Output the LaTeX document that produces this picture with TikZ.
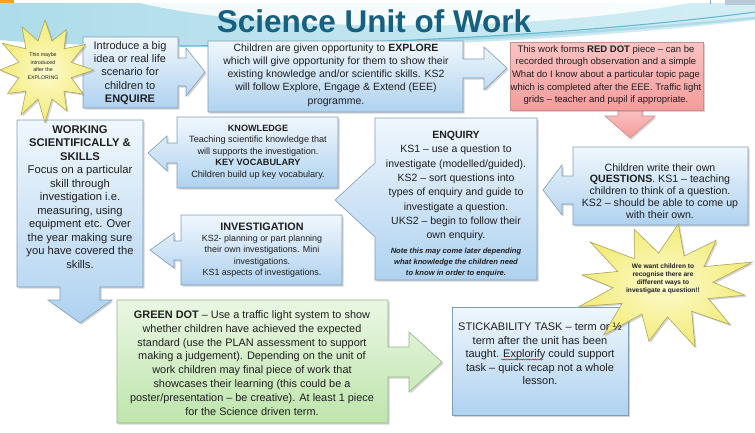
\documentclass[tikz,border=0pt]{standalone}
\usepackage{fontspec}
\setmainfont{Liberation Sans}
\usetikzlibrary{shadows,decorations.pathmorphing}

\definecolor{ink}{HTML}{1F1F1F}
\definecolor{titleblue}{HTML}{17607F}
\definecolor{edgeblue}{HTML}{7F9DB5}
\definecolor{paleblue}{HTML}{F0F7FD}
\definecolor{deepblue}{HTML}{AFD2F0}
\definecolor{edgered}{HTML}{C98E8E}
\definecolor{palered}{HTML}{FBC3C3}
\definecolor{deepred}{HTML}{F59C9C}
\definecolor{edgegreen}{HTML}{95B588}
\definecolor{palegreen}{HTML}{EAF7E3}
\definecolor{deepgreen}{HTML}{BEE5AC}
\definecolor{edgestar}{HTML}{ACA35A}
\definecolor{palestar}{HTML}{FDFBCF}
\definecolor{deepstar}{HTML}{F3EB77}
\definecolor{skyband}{HTML}{AEDCEA}
\definecolor{skylight}{HTML}{D3EEF5}
\definecolor{streak}{HTML}{3FA8C6}
\definecolor{tabgold}{HTML}{F2A51A}
\definecolor{tabgrey}{HTML}{B9C9D8}

% small bold italic face for the footnote inside the enquiry card
\newcommand{\notefont}{\fontsize{7.6}{9}\selectfont\bfseries\itshape}

\tikzset{
  cardshadow/.style={drop shadow={shadow xshift=1.6pt,shadow yshift=-1.6pt,opacity=0.28,fill=black!60}},
  bluecard/.style={draw=edgeblue,line width=0.6pt,top color=paleblue,bottom color=deepblue,cardshadow},
  redcard/.style={draw=edgered,line width=0.6pt,top color=palered,bottom color=deepred,cardshadow},
  greencard/.style={draw=edgegreen,line width=0.6pt,top color=palegreen,bottom color=deepgreen,cardshadow},
  starburst/.style={draw=edgestar,line width=0.6pt,inner color=palestar,outer color=deepstar,cardshadow},
  txt/.style={align=center,text=ink,inner sep=0pt},
}

\begin{document}
\begin{tikzpicture}[x=1pt,y=-1pt]
\useasboundingbox (0,0) rectangle (755,432);
\fill[white] (0,0) rectangle (755,432);

% sky band with streaks across the top
\shade[left color=skyband,right color=skylight]
  (0,3) -- (755,3) -- (755,20) .. controls (640,34) and (420,50) .. (200,47)
  .. controls (110,46) and (40,44) .. (0,40) -- cycle;
\fill[white,opacity=0.85] (140,3) .. controls (260,32) and (520,34) .. (690,3) -- cycle;
\draw[streak!60,line width=2.5pt,opacity=0.5] (300,45) .. controls (500,40) and (650,28) .. (755,18);
\draw[streak,line width=1.1pt,opacity=0.75] (180,46) .. controls (420,44) and (620,30) .. (755,12);
\fill[white] (0,0) rectangle (755,3);
\fill[tabgold] (0,0) rectangle (14,3);
\draw[edgeblue,line width=0.6pt] (710,0) -- (710,4);
\fill[tabgrey] (725,0) rectangle (755,5);

% heading
\node[anchor=base,inner sep=0pt,text=titleblue,font=\fontsize{31.5}{32}\selectfont\bfseries] (title) at (374,32) {Science Unit of Work};

% red down arrow (under the red card)
\path[redcard] (618,108) -- (642,108) -- (642,116) -- (655,116) -- (630,138) -- (605,116) -- (618,116) -- cycle;

% cards with their arrow callouts
\path[bluecard] (83,37) -- (178,37) -- (178,58) -- (186,58) -- (186,48) -- (205,72) -- (186,96) -- (186,86) -- (178,86) -- (178,108) -- (83,108) -- cycle;
\path[bluecard] (208,41) -- (463,41) -- (463,59) -- (484,59) -- (484,47) -- (507,68) -- (484,90) -- (484,78) -- (463,78) -- (463,112) -- (208,112) -- cycle;
\path[redcard] (510,42) rectangle (703,110);
\path[bluecard] (748,147) -- (748,225) -- (573,225) -- (573,204) -- (562,204) -- (562,215) -- (543,190) -- (562,165) -- (562,176) -- (573,176) -- (573,147) -- cycle;
\path[bluecard] (375,118) -- (537,118) -- (537,280) -- (375,280) -- (375,237) -- (335,200) -- (375,163) -- cycle;
\path[bluecard] (177,117) -- (338,117) -- (338,188) -- (177,188) -- (177,163) -- (167,163) -- (167,171) -- (148,153) -- (167,136) -- (167,143) -- (177,143) -- cycle;
\path[bluecard] (181,215) -- (342,215) -- (342,285) -- (181,285) -- (181,260) -- (174,260) -- (174,268) -- (150,250) -- (174,233) -- (174,241) -- (181,241) -- cycle;
\path[bluecard] (17,120) -- (143,120) -- (143,287) -- (100,287) -- (100,300) -- (112,300) -- (80,323) -- (48,300) -- (60,300) -- (60,287) -- (17,287) -- cycle;
\path[greencard] (117,300) -- (388,300) -- (388,347) -- (409,347) -- (409,332) -- (442,362) -- (409,392) -- (409,377) -- (388,377) -- (388,423) -- (117,423) -- cycle;
\path[bluecard] (452,307) rectangle (628,415);

% starbursts
\path[starburst] ({45+46*cos(-90)},{70+50*sin(-90)})
  \foreach \k in {1,...,23}{
    -- ({45+(46*(1+0.07*sin(\k*131))-(46*(1+0.07*sin(\k*131))-27)*mod(\k,2))*cos(-90+\k*15)},
        {70+(50*(1+0.07*sin(\k*131))-(50*(1+0.07*sin(\k*131))-30)*mod(\k,2))*sin(-90+\k*15)})
  } -- cycle;
\path[starburst] ({663+88*cos(-80)},{285+62*sin(-80)})
  \foreach \k in {1,...,23}{
    -- ({663+(88*(1+0.08*sin(\k*113))-(88*(1+0.08*sin(\k*113))-50)*mod(\k,2))*cos(-80+\k*15)},
        {285+(62*(1+0.08*sin(\k*113))-(62*(1+0.08*sin(\k*113))-32)*mod(\k,2))*sin(-80+\k*15)})
  } -- cycle;

% texts
\node[txt,font=\fontsize{5.3}{7.5}\selectfont] (hint) at (43,66) {This maybe\\introduced\\after the\\EXPLORING};
\node[txt,font=\fontsize{11}{13.3}\selectfont] (bigidea) at (130,73) {Introduce a big\\idea or real life\\scenario for\\children to\\\textbf{ENQUIRE}};
\node[txt,font=\fontsize{10.5}{13.2}\selectfont] (explore) at (336,75) {Children are given opportunity to \textbf{EXPLORE}\\which will give opportunity for them to show their\\existing knowledge and/or scientific skills. KS2\\will follow Explore, Engage \& Extend (EEE)\\programme.};
\node[txt,font=\fontsize{9.5}{12.6}\selectfont] (reddot) at (606,75) {This work forms \textbf{RED DOT} piece -- can be\\recorded through observation and a simple\\What do I know about a particular topic page\\which is completed after the EEE. Traffic light\\grids -- teacher and pupil if appropriate.};
\node[txt,font=\fontsize{10.6}{11.8}\selectfont] (questions) at (660,191) {Children write their own\\\textbf{QUESTIONS}. KS1 -- teaching\\children to think of a question.\\KS2 -- should be able to come up\\with their own.};
\node[txt,font=\fontsize{10.5}{14.3}\selectfont] (enquiry) at (456,204) {\textbf{ENQUIRY}\\KS1 -- use a question to\\investigate (modelled/guided).\\KS2 -- sort questions into\\types of enquiry and guide to\\investigate a question.\\UKS2 -- begin to follow their\\own enquiry.\\{\notefont Note this may come later depending}\\[-3.3pt]{\notefont what knowledge the children need}\\[-3.3pt]{\notefont to know in order to enquire.}};
\node[txt,font=\fontsize{9.1}{11.6}\selectfont] (knowledge) at (258,152) {\textbf{KNOWLEDGE}\\Teaching scientific knowledge that\\will supports the investigation.\\\textbf{KEY VOCABULARY}\\Children build up key vocabulary.};
\node[txt,font=\fontsize{8.9}{11.3}\selectfont] (investigation) at (262,250) {{\fontsize{10.8}{13}\selectfont\textbf{INVESTIGATION}}\\KS2- planning or part planning\\their own investigations. Mini\\investigations.\\KS1 aspects of investigations.};
\node[txt,font=\fontsize{11.2}{13.5}\selectfont] (working) at (80,197) {\textbf{WORKING}\\\textbf{SCIENTIFICALLY \&}\\\textbf{SKILLS}\\Focus on a particular\\skill through\\investigation i.e.\\measuring, using\\equipment etc. Over\\the year making sure\\you have covered the\\skills.};
\node[txt,font=\fontsize{10.9}{13.9}\selectfont] (greendot) at (252,363) {\textbf{GREEN DOT} -- Use a traffic light system to show\\whether children have achieved the expected\\standard (use the PLAN assessment to support\\making a judgement). Depending on the unit of\\work children may final piece of work that\\showcases their learning (this could be a\\poster/presentation -- be creative). At least 1 piece\\for the Science driven term.};
\node[txt,font=\fontsize{11}{13.4}\selectfont] (stick) at (540,354) {STICKABILITY TASK -- term or ½\\term after the unit has been\\taught. Explorify could support\\task -- quick recap not a whole\\lesson.};
\node[txt,font=\fontsize{6.6}{8}\selectfont\bfseries] (recognise) at (663,279) {We want children to\\recognise there are\\different ways to\\investigate a question!!};

% spell-check squiggle under "Explorify"
\draw[red!80!black,line width=0.45pt,decorate,decoration={snake,amplitude=0.6pt,segment length=2.4pt}] (501,359.5) -- (543,359.5);
\end{tikzpicture}
\end{document}
